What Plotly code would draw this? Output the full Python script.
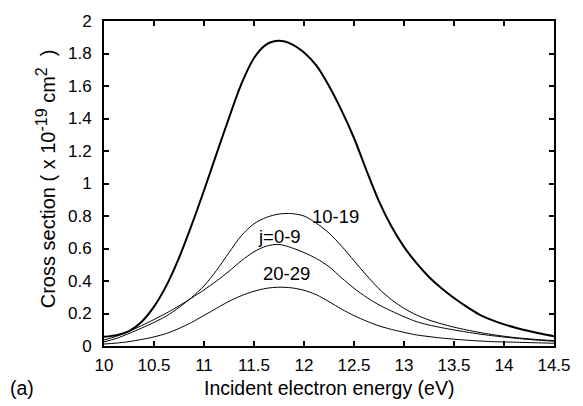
import plotly.graph_objects as go

energy = [10.0, 10.125, 10.25, 10.375, 10.5, 10.625, 10.75, 10.875, 11.0, 11.125,
          11.25, 11.375, 11.5, 11.625, 11.75, 11.875, 12.0, 12.125, 12.25, 12.375,
          12.5, 12.625, 12.75, 12.875, 13.0, 13.125, 13.25, 13.375, 13.5, 13.625,
          13.75, 13.875, 14.0, 14.125, 14.25, 14.375, 14.5]
total = [0.057, 0.067, 0.092, 0.148, 0.242, 0.373, 0.542, 0.742, 0.957, 1.182,
         1.404, 1.614, 1.772, 1.856, 1.878, 1.858, 1.806, 1.725, 1.60, 1.45,
         1.28, 1.08, 0.89, 0.735, 0.61, 0.51, 0.425, 0.355, 0.295, 0.242,
         0.195, 0.161, 0.133, 0.111, 0.092, 0.075, 0.06]
j10_19 = [0.025, 0.047, 0.077, 0.11, 0.145, 0.185, 0.237, 0.298, 0.37, 0.465,
          0.575, 0.68, 0.752, 0.792, 0.812, 0.815, 0.80, 0.755, 0.695, 0.615,
          0.525, 0.435, 0.352, 0.285, 0.232, 0.191, 0.16, 0.136, 0.116, 0.099,
          0.084, 0.071, 0.06, 0.051, 0.044, 0.038, 0.033]
j0_9 = [0.037, 0.06, 0.09, 0.125, 0.163, 0.203, 0.247, 0.295, 0.345, 0.40,
        0.46, 0.525, 0.58, 0.615, 0.625, 0.605, 0.575, 0.538, 0.488, 0.42,
        0.355, 0.30, 0.253, 0.215, 0.18, 0.15, 0.129, 0.113, 0.099, 0.086,
        0.074, 0.064, 0.055, 0.047, 0.04, 0.034, 0.03]
j20_29 = [0.012, 0.018, 0.027, 0.04, 0.056, 0.077, 0.108, 0.145, 0.188, 0.232,
          0.275, 0.31, 0.337, 0.355, 0.362, 0.358, 0.343, 0.315, 0.273, 0.227,
          0.187, 0.153, 0.124, 0.102, 0.084, 0.068, 0.058, 0.049, 0.042, 0.036,
          0.031, 0.027, 0.025, 0.023, 0.021, 0.019, 0.017]

labels = ["10-19", "j=0-9", "20-29"]
label_x = [12.31, 11.75, 11.82]
label_y = [0.80, 0.675, 0.448]

FONT = "Liberation Sans, Arial, Helvetica, sans-serif"

fig = go.Figure()
fig.add_trace(go.Scatter(x=energy, y=total, mode="lines",
                         line=dict(color="black", width=2, shape="spline", smoothing=0.8)))
for ys in (j10_19, j0_9, j20_29):
    fig.add_trace(go.Scatter(x=energy, y=ys, mode="lines",
                             line=dict(color="black", width=1, shape="spline", smoothing=0.8)))

for t, lx, ly in zip(labels, label_x, label_y):
    fig.add_annotation(x=lx, y=ly, text=t, showarrow=False,
                       font=dict(size=18.5, color="black", family=FONT))

fig.add_annotation(xref="paper", yref="paper", x=0.5, y=-0.13, yanchor="middle",
                   text="Incident electron energy (eV)", showarrow=False,
                   font=dict(size=19.5, color="black", family=FONT))
fig.add_annotation(xref="paper", yref="paper", x=-0.163, y=0.515, textangle=-90,
                   text="Cross section ( x 10<sup><span style='font-size:16px'>-19</span></sup>"
                        " cm<sup><span style='font-size:16px'>2</span></sup>&nbsp;&nbsp;)",
                   showarrow=False, font=dict(size=20, color="black", family=FONT))
fig.add_annotation(xref="paper", yref="paper", x=-0.213, y=-0.13, yanchor="middle", xanchor="left",
                   text="(a)", showarrow=False, font=dict(size=19.5, color="black", family=FONT))

axis_common = dict(showgrid=False, zeroline=False, showline=True, linecolor="black", linewidth=2,
                   mirror="allticks", ticks="inside", ticklen=5, tickwidth=1.5, tickcolor="black",
                   tickfont=dict(size=17, color="black", family=FONT))
fig.update_xaxes(range=[10, 14.5], dtick=0.5, tick0=10, ticklabelstandoff=3, **axis_common)
fig.update_yaxes(range=[0, 2], dtick=0.2, tick0=0, ticklabelstandoff=7, **axis_common)

fig.update_layout(width=583, height=406, margin=dict(l=104, r=25, t=18, b=60),
                  paper_bgcolor="white", plot_bgcolor="white", showlegend=False,
                  font=dict(family=FONT, color="black"))
fig.write_html("out.html")
